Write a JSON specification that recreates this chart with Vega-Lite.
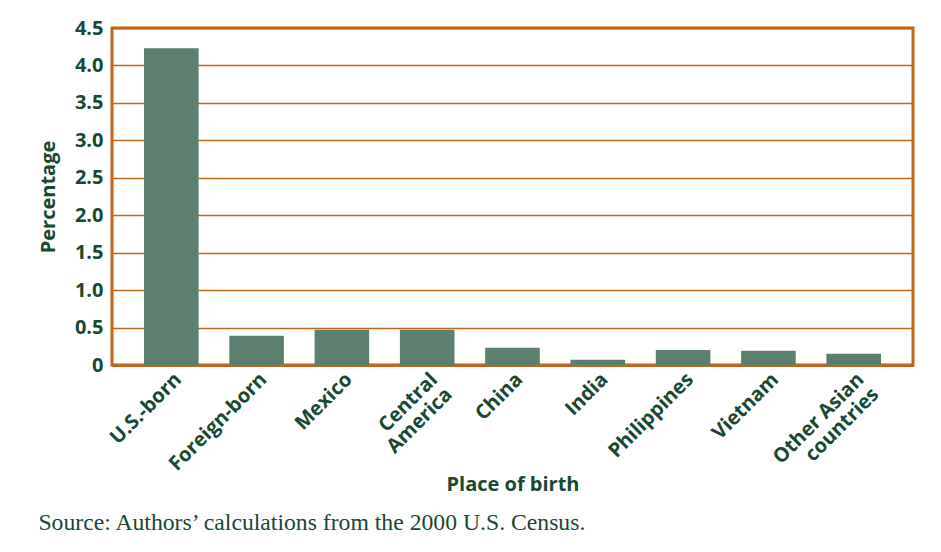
{
  "$schema": "https://vega.github.io/schema/vega-lite/v6.json",
  "width": 801,
  "height": 337,
  "padding": {"left": 38, "top": 18, "right": 5, "bottom": 5},
  "background": "white",
  "data": {
    "values": [
      {"place": "U.S.-born", "pct": 4.23},
      {"place": "Foreign-born", "pct": 0.39},
      {"place": "Mexico", "pct": 0.47},
      {"place": "Central|America", "pct": 0.47},
      {"place": "China", "pct": 0.23},
      {"place": "India", "pct": 0.07},
      {"place": "Philippines", "pct": 0.2},
      {"place": "Vietnam", "pct": 0.19},
      {"place": "Other Asian|countries", "pct": 0.15}
    ]
  },
  "title": {
    "text": "Source: Authors’ calculations from the 2000 U.S. Census.",
    "orient": "bottom",
    "anchor": "start",
    "frame": "bounds",
    "font": "Liberation Serif",
    "fontSize": 23.7,
    "fontWeight": "normal",
    "color": "#174832",
    "offset": 17
  },
  "mark": {"type": "bar", "color": "#5b8070"},
  "encoding": {
    "x": {
      "field": "place",
      "type": "nominal",
      "sort": null,
      "scale": {"paddingInner": 0.36, "paddingOuter": 0.375},
      "axis": {
        "title": "Place of birth",
        "labelAngle": -45,
        "labelExpr": "split(datum.label, '|')",
        "labelAlign": "right",
        "labelBaseline": "top",
        "labelPadding": 4,
        "ticks": false,
        "domainColor": "#c0661c",
        "domainWidth": 3,
        "titlePadding": -8
      }
    },
    "y": {
      "field": "pct",
      "type": "quantitative",
      "scale": {"domain": [0, 4.5], "nice": false},
      "axis": {
        "title": "Percentage",
        "values": [0, 0.5, 1, 1.5, 2, 2.5, 3, 3.5, 4, 4.5],
        "labelExpr": "datum.value == 0 ? '0' : format(datum.value, '.1f')",
        "ticks": false,
        "domain": false,
        "gridColor": "#c0661c",
        "gridWidth": 1.5,
        "gridOpacity": 1,
        "labelPadding": 9,
        "titlePadding": 16
      }
    }
  },
  "config": {
    "view": {"stroke": "#c0661c", "strokeWidth": 3},
    "axis": {
      "labelFont": "Open Sans",
      "labelFontWeight": "bold",
      "labelFontSize": 20,
      "labelColor": "#174832",
      "titleFont": "Open Sans",
      "titleFontWeight": "bold",
      "titleFontSize": 20,
      "titleColor": "#174832",
      "labelLineHeight": 21,
      "grid": true
    },
    "axisX": {"grid": false}
  }
}
